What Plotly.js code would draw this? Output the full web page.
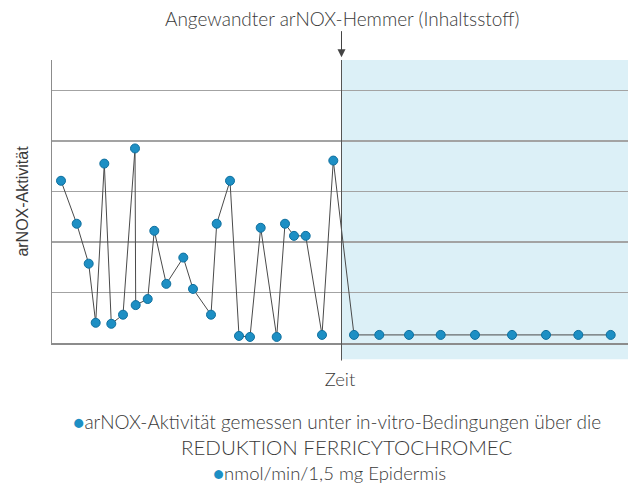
<!DOCTYPE html>
<html>
<head>
<meta charset="utf-8">
<script src="https://cdn.plot.ly/plotly-3.0.1.min.js"></script>
<style>html,body{margin:0;padding:0;background:#fff;}#chart{width:628px;height:486px;}</style>
</head>
<body>
<div id="chart"></div>
<script>
// Time positions (arbitrary units)
const zeit = [9, 24.7, 36.7, 43.7, 52.3, 59.3, 71, 83, 83.7, 95.7, 102.3, 114.3, 131.3, 141, 159, 164.7, 178, 187, 198, 208.7, 224.7, 233, 242, 253.7, 270, 281.3, 302, 327.3, 357, 388.7, 423, 460, 494, 526.3, 558.7];
// arNOX activity (grid units)
const aktivitaet = [3.21, 2.36, 1.57, 0.40, 3.55, 0.38, 0.56, 3.85, 0.75, 0.87, 2.22, 1.17, 1.69, 1.07, 0.56, 2.36, 3.21, 0.14, 0.12, 2.28, 0.12, 2.36, 2.12, 2.12, 0.16, 3.61, 0.16, 0.16, 0.16, 0.16, 0.16, 0.16, 0.16, 0.16, 0.16];
// Moment the inhibitor is applied, and end of time axis
const hemmerStart = 289.5;
const zeitEnde = 576;

const txt = '#3a3a3a';
const blau = '#1d8fc4';

const trace = {
  x: zeit, y: aktivitaet, type: 'scatter', mode: 'lines+markers',
  line: {color: '#4a4a4a', width: 1},
  marker: {color: blau, size: 9, line: {color: '#0e6f9e', width: 1}},
  hoverinfo: 'x+y', showlegend: false
};

const light = {family: 'Lato, "Open Sans", sans-serif', weight: 300, color: txt};

const layout = {
  width: 628, height: 486,
  margin: {l: 52, r: 0, t: 60, b: 143},
  paper_bgcolor: '#fff', plot_bgcolor: '#fff',
  font: {family: 'Lato, "Open Sans", sans-serif', color: txt},
  xaxis: {
    range: [0, zeitEnde], showgrid: false, zeroline: false,
    showline: true, linecolor: '#8c8c8c', linewidth: 1.5,
    showticklabels: false, ticks: '',
    title: {text: 'Zeit', font: Object.assign({}, light, {size: 18.5}), standoff: 29}
  },
  yaxis: {
    range: [0, 5.6], dtick: 1, showgrid: true, gridcolor: '#a3a3a3', gridwidth: 1.5,
    zeroline: false, showline: true, linecolor: '#8c8c8c', linewidth: 1.5,
    showticklabels: false, ticks: '',
    title: {text: 'arNOX-Aktivität', font: {size: 16, color: txt, family: '"Liberation Sans", Arial, sans-serif'}, standoff: 18}
  },
  shapes: [
    {type: 'rect', xref: 'x', yref: 'paper', x0: hemmerStart, x1: zeitEnde, y0: -0.057, y1: 1,
     fillcolor: '#dcf0f7', line: {width: 0}, layer: 'below'},
    {type: 'line', xref: 'x', yref: 'paper', x0: hemmerStart, x1: hemmerStart, y0: -0.062, y1: 1,
     line: {color: '#555', width: 1}}
  ],
  annotations: [
    {text: 'Angewandter arNOX-Hemmer (Inhaltsstoff)', xref: 'x', yref: 'paper', x: hemmerStart, y: 1.01,
     showarrow: true, ax: 0, ay: -39, arrowhead: 2, arrowsize: 1.6, arrowwidth: 1, arrowcolor: '#444',
     font: Object.assign({}, light, {size: 19})},
    {text: '<span style="color:' + blau + '">●</span>arNOX-Aktivität gemessen unter in-vitro-Bedingungen über die',
     xref: 'paper', yref: 'paper', x: 0.4948, y: -0.279, xanchor: 'center', yanchor: 'middle', showarrow: false,
     font: Object.assign({}, light, {size: 19})},
    {text: 'REDUKTION FERRICYTOCHROMEC',
     xref: 'paper', yref: 'paper', x: 0.512, y: -0.3675, xanchor: 'center', yanchor: 'middle', showarrow: false,
     font: Object.assign({}, light, {size: 20.5})},
    {text: '<span style="color:' + blau + '">●</span>nmol/min/1,5 mg Epidermis',
     xref: 'paper', yref: 'paper', x: 0.4826, y: -0.459, xanchor: 'center', yanchor: 'middle', showarrow: false,
     font: Object.assign({}, light, {size: 18.5})}
  ]
};

Plotly.newPlot('chart', [trace], layout, {displayModeBar: false, staticPlot: true});
</script>
</body>
</html>
